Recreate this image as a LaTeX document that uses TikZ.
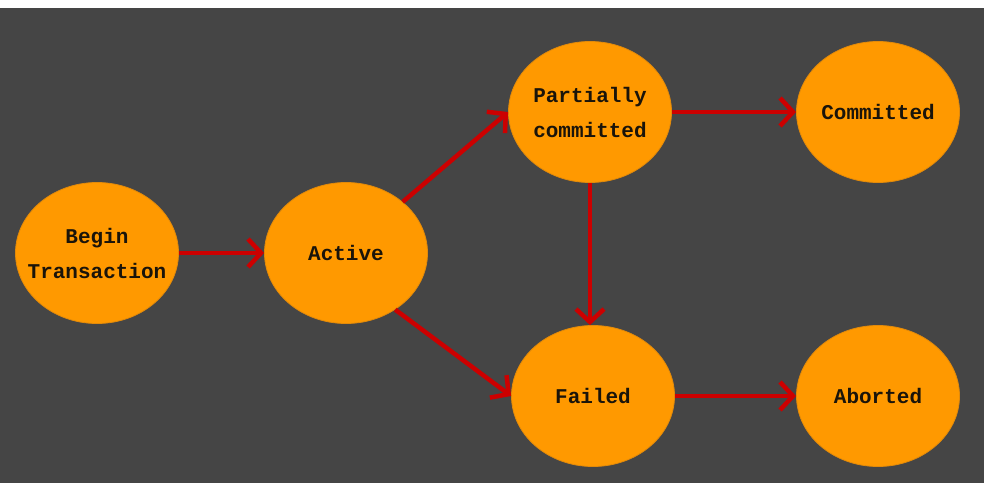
\documentclass[tikz,border=0pt]{standalone}
\usepackage{fontspec}
\setmonofont{Liberation Mono}
\usetikzlibrary{shapes.geometric,arrows.meta}
\definecolor{bgdark}{RGB}{69,69,69}
\definecolor{stateorange}{RGB}{255,153,0}
\definecolor{stateedge}{RGB}{226,138,10}
\definecolor{arrowred}{RGB}{204,0,0}
\definecolor{textdark}{RGB}{26,20,10}
\tikzset{
  state/.style={ellipse, fill=stateorange, draw=stateedge, line width=0.8pt,
    minimum width=163pt, minimum height=141pt, inner xsep=-20pt, inner ysep=0pt,
    align=center, text=textdark,
    font=\ttfamily\bfseries\fontsize{21}{35}\selectfont},
  arr/.style={draw=arrowred, line width=4.5pt,
    -{Straight Barb[length=13pt,width=28pt,line width=4.5pt]}}
}
\begin{document}
\begin{tikzpicture}[x=1pt,y=-1pt]
\useasboundingbox (0,0) rectangle (987,492);
\fill[white] (0,0) rectangle (987,492);
\fill[bgdark] (0,8) rectangle (984,483);
\node[state] (begin) at (97,253) {Begin\\Transaction};
\node[state] (active) at (346,253) {Active};
\node[state] (partial) at (590,112) {Partially\\committed};
\node[state] (committed) at (878,112) {Committed};
\node[state] (failed) at (593,396) {Failed};
\node[state] (aborted) at (878,396) {Aborted};
\draw[arr] (begin.east) -- (active.west);
\draw[arr] (active.42) -- (partial.west);
\draw[arr] (active.-49) -- (failed.west);
\draw[arr] (partial.east) -- (committed.west);
\draw[arr] (partial.south) -- (partial.south |- failed.north);
\draw[arr] (failed.east) -- (aborted.west);
\end{tikzpicture}
\end{document}
